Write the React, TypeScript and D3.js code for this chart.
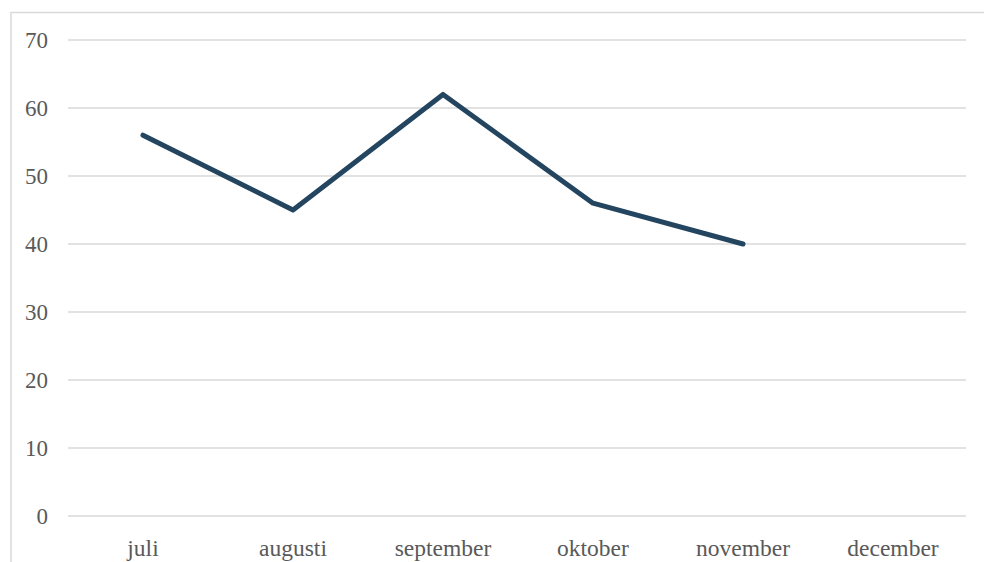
import React, { useEffect, useRef } from 'react';
import * as d3 from 'd3';

const months = ['juli', 'augusti', 'september', 'oktober', 'november', 'december'];
const values: (number | null)[] = [56, 45, 62, 46, 40, null];
const yTicks = [0, 10, 20, 30, 40, 50, 60, 70];

const width = 984;
const height = 562;
const margin = { top: 40, right: 16, bottom: 46, left: 68 };
const font = "'Liberation Serif', 'Times New Roman', serif";

function App() {
  const ref = useRef<SVGSVGElement>(null);

  useEffect(() => {
    const svg = d3.select(ref.current);
    svg.selectAll('*').remove();

    const x = d3
      .scaleBand()
      .domain(months)
      .range([margin.left, width - margin.right]);

    const y = d3
      .scaleLinear()
      .domain([0, 70])
      .range([height - margin.bottom, margin.top]);

    // chart area border (left + top visible)
    svg
      .append('rect')
      .attr('x', 11)
      .attr('y', 12.5)
      .attr('width', width)
      .attr('height', height)
      .attr('fill', 'none')
      .attr('stroke', '#d9d9d9')
      .attr('stroke-width', 1.5);

    // gridlines
    svg
      .append('g')
      .selectAll('line')
      .data(yTicks)
      .enter()
      .append('line')
      .attr('x1', margin.left)
      .attr('x2', width - margin.right - 2)
      .attr('y1', (d) => y(d))
      .attr('y2', (d) => y(d))
      .attr('stroke', '#d9d9d9')
      .attr('stroke-width', 1.5);

    // y labels
    svg
      .append('g')
      .selectAll('text')
      .data(yTicks)
      .enter()
      .append('text')
      .attr('x', 48)
      .attr('y', (d) => y(d))
      .attr('dy', '0.33em')
      .attr('text-anchor', 'end')
      .style('font-family', font)
      .style('font-size', '23px')
      .style('fill', '#595959')
      .text((d) => d);

    // x labels
    svg
      .append('g')
      .selectAll('text')
      .data(months)
      .enter()
      .append('text')
      .attr('x', (d) => (x(d) as number) + x.bandwidth() / 2)
      .attr('y', 556)
      .attr('text-anchor', 'middle')
      .style('font-family', font)
      .style('font-size', '23.5px')
      .style('fill', '#595959')
      .text((d) => d);

    const pts = months.map((m, i) => ({ m, v: values[i] }));
    const line = d3
      .line<{ m: string; v: number | null }>()
      .defined((d) => d.v != null)
      .x((d) => (x(d.m) as number) + x.bandwidth() / 2)
      .y((d) => y(d.v as number));

    svg
      .append('path')
      .datum(pts)
      .attr('d', line)
      .attr('fill', 'none')
      .attr('stroke', '#234560')
      .attr('stroke-width', 5)
      .attr('stroke-linejoin', 'round')
      .attr('stroke-linecap', 'round');
  }, []);

  return (
    <svg
      ref={ref}
      width={width}
      height={height}
      style={{ position: 'absolute', left: 0, top: 0, background: '#fff' }}
    />
  );
}

export default App;
